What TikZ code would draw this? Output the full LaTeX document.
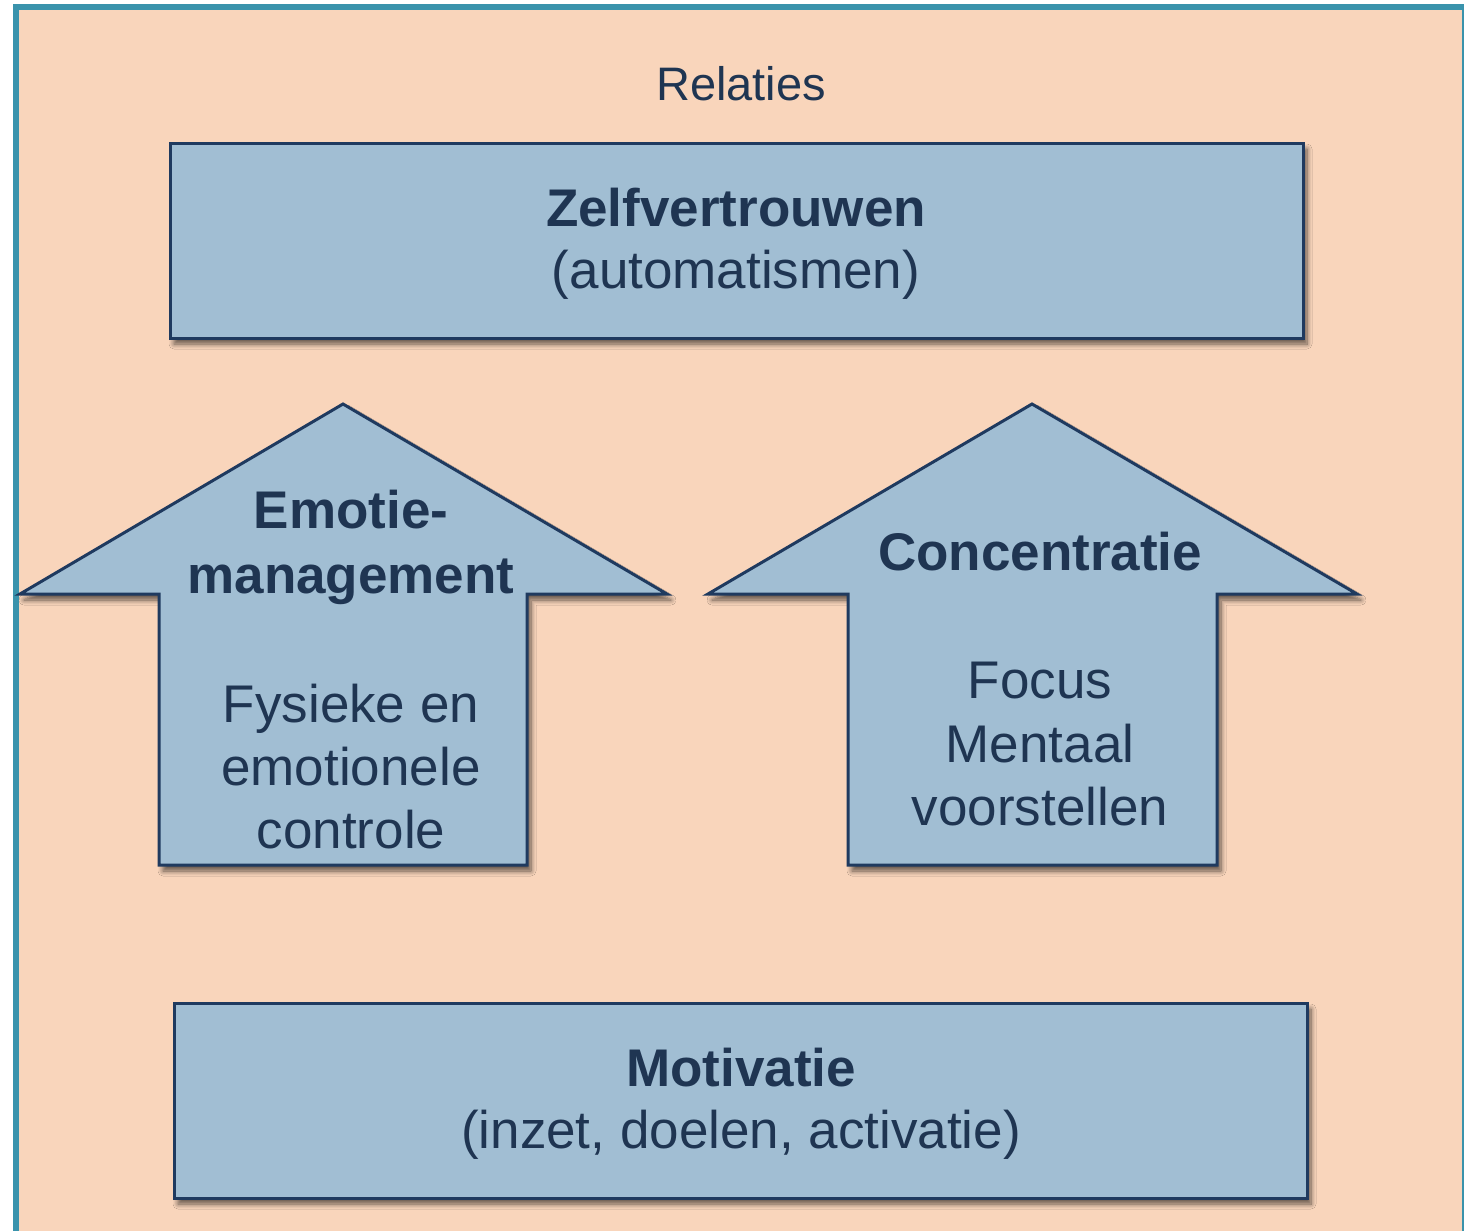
\documentclass[tikz,border=0pt]{standalone}
\usepackage{fontspec}
\setmainfont{Liberation Sans}
\usetikzlibrary{shadows.blur}
\definecolor{peach}{HTML}{F9D5BB}
\definecolor{frameteal}{HTML}{3A93AC}
\definecolor{boxblue}{HTML}{A1BED3}
\definecolor{boxline}{HTML}{1F3A5F}
\definecolor{ink}{HTML}{1F3552}
\begin{document}
\begin{tikzpicture}[x=1pt,y=-1pt,
  panel/.style={fill=boxblue,draw=boxline,line width=3pt,line join=miter,
    blur shadow={shadow xshift=4pt,shadow yshift=-6pt,shadow blur steps=8,
      shadow blur radius=5pt,shadow opacity=60}},
  lbl/.style={anchor=base,text=ink,inner sep=0pt,font=\fontsize{53}{63}\selectfont},
  head/.style={lbl,font=\fontsize{53}{63}\selectfont\bfseries}]
\useasboundingbox (0,0) rectangle (1464,1231);
% page background and frame
\fill[white] (0,0) rectangle (1464,1231);
\fill[peach] (16,7) rectangle (1465,1240);
\draw[frameteal,line width=6pt] (16,1240) -- (16,7) -- (1465,7) -- (1465,1240);
\node[lbl,font=\fontsize{47}{56}\selectfont] (title) at (741,100) {Relaties};
% top block
\draw[panel] (170,143) rectangle (1303,338);
\node[head] (zv) at (736,226) {Zelfvertrouwen};
\node[lbl] (zvsub) at (736,288) {(automatismen)};
% left arrow
\draw[panel] (343,404) -- (667,594) -- (527,594) -- (527,865) -- (159,865)
  -- (159,594) -- (20,594) -- cycle;
\node[head] (em1) at (351,528) {Emotie-};
\node[head] (em2) at (351,593) {management};
\node[lbl] (fy1) at (351,722) {Fysieke en};
\node[lbl] (fy2) at (351,785) {emotionele};
\node[lbl] (fy3) at (351,848) {controle};
% right arrow
\draw[panel] (1032,404) -- (1357,594) -- (1217,594) -- (1217,865) -- (848,865)
  -- (848,594) -- (708,594) -- cycle;
\node[head] (conc) at (1040,570) {Concentratie};
\node[lbl] (fo1) at (1040,698) {Focus};
\node[lbl] (fo2) at (1040,762) {Mentaal};
\node[lbl] (fo3) at (1040,825) {voorstellen};
% bottom block
\draw[panel] (174,1003) rectangle (1307,1198);
\node[head] (mot) at (741,1086) {Motivatie};
\node[lbl] (motsub) at (741,1148) {(inzet, doelen, activatie)};
\end{tikzpicture}
\end{document}
